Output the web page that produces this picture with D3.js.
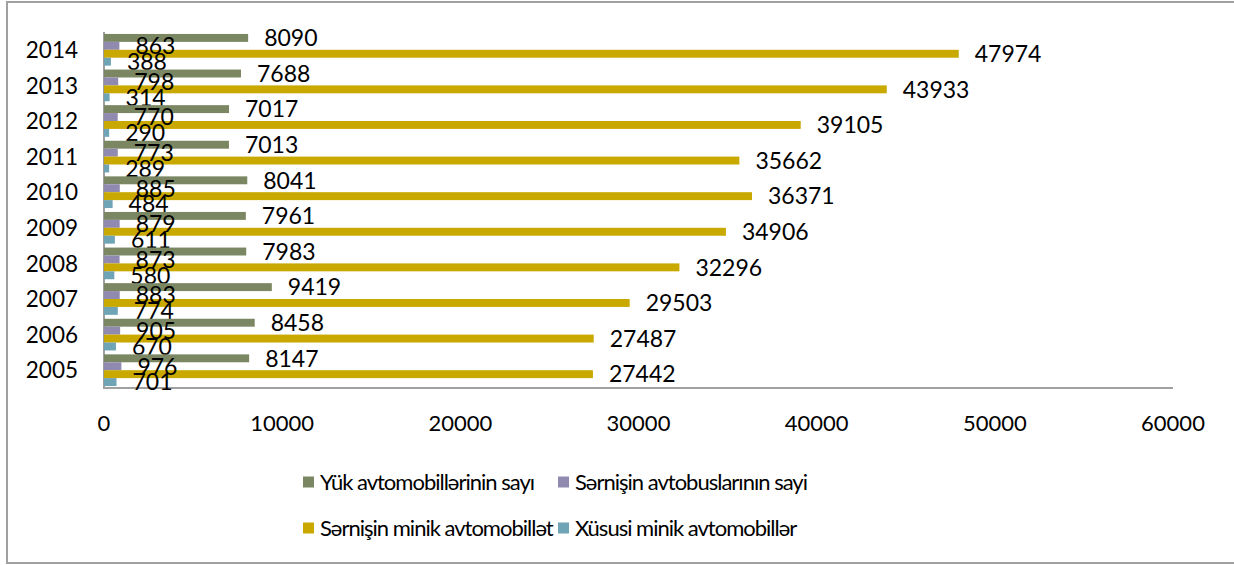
<!DOCTYPE html>
<html>
<head>
<meta charset="utf-8">
<script src="https://cdn.jsdelivr.net/npm/d3@7"></script>
<style>
  body { margin: 0; background: #fff; }
  text { font-family: Lato, "Open Sans", sans-serif; fill: #000; }
</style>
</head>
<body>
<div id="container"></div>
<script>
const years = ["2014", "2013", "2012", "2011", "2010", "2009", "2008", "2007", "2006", "2005"];
const seriesNames = ["Yük avtomobillərinin sayı", "Sərnişin avtobuslarının sayi", "Sərnişin minik avtomobillət", "Xüsusi minik avtomobillər"];
const yuk = [8090, 7688, 7017, 7013, 8041, 7961, 7983, 9419, 8458, 8147];
const avtobus = [863, 798, 770, 773, 885, 879, 873, 883, 905, 976];
const minik = [47974, 43933, 39105, 35662, 36371, 34906, 32296, 29503, 27487, 27442];
const xususi = [388, 314, 290, 289, 484, 611, 580, 774, 670, 701];
const xTicks = [0, 10000, 20000, 30000, 40000, 50000, 60000];
const colors = ["#7a8762", "#9089b0", "#c9a800", "#6fa3b6"];

const width = 1234;
const height = 565;
const marginTop = 32;
const marginBottom = 177;
const marginLeft = 104;
const marginRight = 61;

const allSeries = [yuk, avtobus, minik, xususi];

const svg = d3.create("svg")
  .attr("width", width)
  .attr("height", height);

// outer frame
svg.append("rect")
  .attr("x", 7).attr("y", 2)
  .attr("width", width + 10).attr("height", 561)
  .attr("fill", "none")
  .attr("stroke", "#a0a0a0")
  .attr("stroke-width", 2);

const x = d3.scaleLinear([0, 60000], [marginLeft, width - marginRight]);
const y = d3.scaleBand(years, [marginTop, height - marginBottom]).paddingInner(0.11).paddingOuter(0.055);
const ySub = d3.scaleBand(d3.range(4), [0, y.bandwidth()]);

// axes
svg.append("line")
  .attr("x1", x(0)).attr("x2", x(0))
  .attr("y1", marginTop).attr("y2", height - marginBottom)
  .attr("stroke", "#a0a0a0").attr("stroke-width", 2);
svg.append("line")
  .attr("x1", x(0) - 1).attr("x2", x(60000))
  .attr("y1", height - marginBottom).attr("y2", height - marginBottom)
  .attr("stroke", "#a0a0a0").attr("stroke-width", 2);

const groups = svg.append("g")
  .selectAll("g")
  .data(years)
  .join("g")
    .attr("transform", d => `translate(0,${y(d)})`);

allSeries.forEach((vals, si) => {
  groups.append("rect")
    .attr("x", x(0))
    .attr("y", ySub(si))
    .attr("width", (d, i) => x(vals[i]) - x(0))
    .attr("height", ySub.bandwidth())
    .attr("fill", colors[si]);
});

// labels drawn after bars so they sit on top
allSeries.forEach((vals, si) => {
  groups.append("text")
    .attr("x", (d, i) => x(vals[i]) + 16)
    .attr("y", ySub(si) + ySub.bandwidth() / 2)
    .attr("dy", "0.36em")
    .attr("font-size", 23)
    .text((d, i) => vals[i]);
});

svg.append("g")
  .selectAll("text")
  .data(years)
  .join("text")
    .attr("x", 78)
    .attr("y", d => y(d) + y.bandwidth() / 2)
    .attr("dy", "0.36em")
    .attr("text-anchor", "end")
    .attr("font-size", 22.5)
    .text(d => d);

svg.append("g")
  .selectAll("text")
  .data(xTicks)
  .join("text")
    .attr("x", d => x(d))
    .attr("y", 423)
    .attr("dy", "0.36em")
    .attr("text-anchor", "middle")
    .attr("font-size", 22)
    .text(d => d);

// legend
const legendPos = [[303, 482], [558, 482], [303, 528], [558, 528]];
const legend = svg.append("g")
  .selectAll("g")
  .data(seriesNames)
  .join("g")
    .attr("transform", (d, i) => `translate(${legendPos[i][0]},${legendPos[i][1]})`);
legend.append("rect")
  .attr("x", 0).attr("y", -5.5)
  .attr("width", 11).attr("height", 11)
  .attr("fill", (d, i) => colors[i]);
legend.append("text")
  .attr("x", 17)
  .attr("dy", "0.36em")
  .attr("font-size", 22)
  .attr("letter-spacing", -1)
  .text(d => d);

container.append(svg.node());
</script>
</body>
</html>
